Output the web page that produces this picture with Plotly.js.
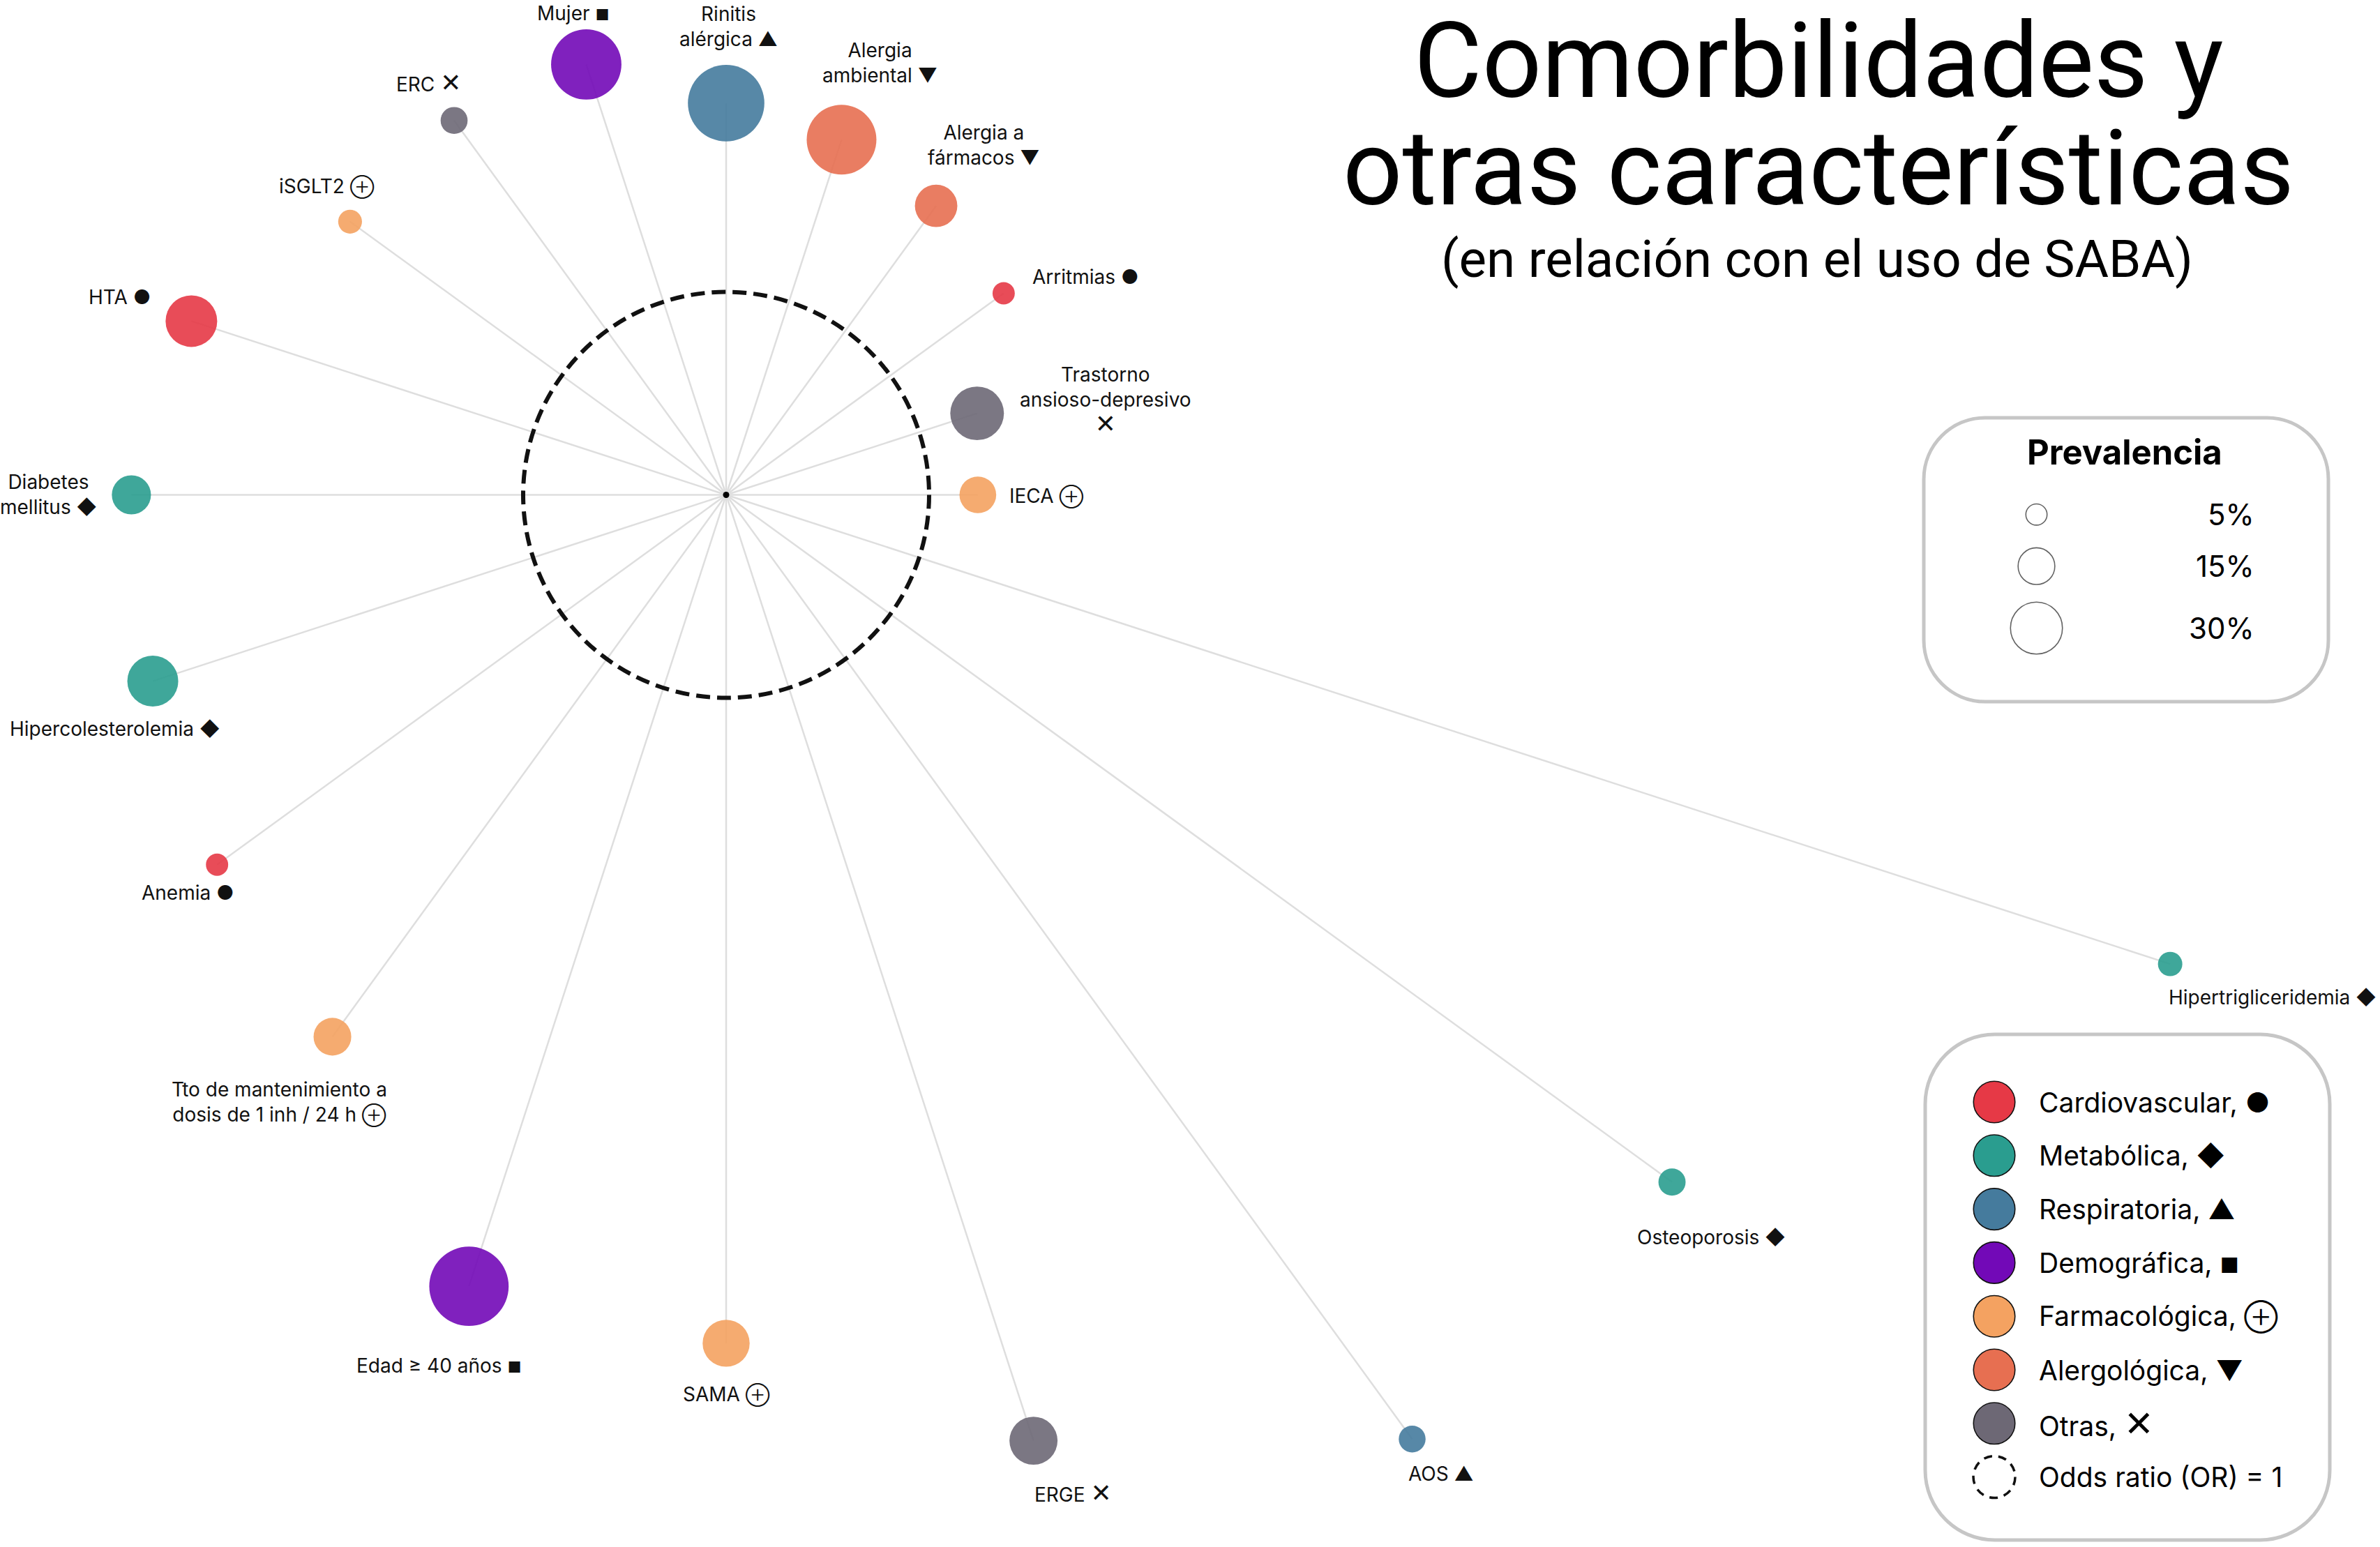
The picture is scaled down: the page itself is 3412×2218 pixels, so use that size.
<!DOCTYPE html>
<html>
<head>
<meta charset="utf-8">
<script src="https://cdn.plot.ly/plotly-3.0.1.min.js"></script>
<style>
html,body{margin:0;padding:0;background:#ffffff;overflow:hidden}
#chart{width:3412px;height:2218px}
</style>
</head>
<body>
<div id="chart"></div>
<script>
// ---------------- DATA ----------------
// Order: clockwise starting at the top (12 o'clock), evenly spaced spokes
const itemNames = [
  "Rinitis alérgica", "Alergia ambiental", "Alergia a fármacos", "Arritmias",
  "Trastorno ansioso-depresivo", "IECA", "Hipertrigliceridemia", "Osteoporosis",
  "AOS", "ERGE", "SAMA", "Edad ≥ 40 años",
  "Tto de mantenimiento a dosis de 1 inh / 24 h", "Anemia", "Hipercolesterolemia",
  "Diabetes mellitus", "HTA", "iSGLT2", "ERC", "Mujer"
];
const itemLabels = [
  "Rinitis<br>alérgica ▲", "Alergia<br>ambiental ▼", "Alergia a<br>fármacos ▼", "Arritmias ●",
  "Trastorno<br>ansioso-depresivo<br>✕", "IECA ⊕", "Hipertrigliceridemia ◆", "Osteoporosis ◆",
  "AOS ▲", "ERGE ✕", "SAMA ⊕", "Edad ≥ 40 años ■",
  "Tto de mantenimiento a<br>dosis de 1 inh / 24 h ⊕", "Anemia ●", "Hipercolesterolemia ◆",
  "Diabetes<br>mellitus ◆", "HTA ●", "iSGLT2 ⊕", "ERC ✕", "Mujer ■"
];
const itemCategory = [
  "Respiratoria", "Alergológica", "Alergológica", "Cardiovascular",
  "Otras", "Farmacológica", "Metabólica", "Metabólica",
  "Respiratoria", "Otras", "Farmacológica", "Demográfica",
  "Farmacológica", "Cardiovascular", "Metabólica",
  "Metabólica", "Cardiovascular", "Farmacológica", "Otras", "Demográfica"
];
// Odds ratio (distance from centre; dashed circle = OR 1)
const oddsRatio = [
  1.93, 1.84, 1.76, 1.69,
  1.30, 1.24, 7.48, 5.76,
  5.75, 4.90, 4.18, 4.10,
  3.30, 3.10, 2.97,
  2.93, 2.77, 2.29, 2.28, 2.23
];
// Prevalence (%) -> bubble area
const prevalence = [
  65, 54, 20, 5.5,
  32, 15, 6.6, 8.2,
  8.0, 25.7, 24.6, 70,
  15.8, 5.5, 28.8,
  17, 29.6, 6.3, 8.1, 55
];
const categoryNames   = ["Cardiovascular", "Metabólica", "Respiratoria", "Demográfica", "Farmacológica", "Alergológica", "Otras"];
const categorySymbols = ["●", "◆", "▲", "■", "⊕", "▼", "✕"];
const categoryColors  = ["#e63946", "#2a9d8f", "#457b9d", "#7209b7", "#f4a261", "#e76f51", "#6d6875"];
const sizeLegendValues = [5, 15, 30];
const sizeLegendLabels = ["5%", "15%", "30%"];

// ---------------- LAYOUT CONSTANTS ----------------
const W = 3412, H = 2218;
const CX = 1041, CY = 709.5;      // centre of the radial chart (px)
const PX_PER_OR = 291;            // px per odds-ratio unit
const K = 13.6;                   // bubble diameter = K*sqrt(prevalence)
const SIZEREF = 2 / (K * K);
const LABEL_FONT = "Inter, 'DejaVu Sans', sans-serif";

// label offsets (px) from bubble centre: [dx, dyUp, xanchor]
const labelOffsets = [
  [3, 110, "center"], [55, 110, "center"], [68, 87, "center"], [39, 23, "left"],
  [184, 18, "center"], [43, -2, "left"], [147, -48, "center"], [56, -79, "center"],
  [41, -50, "center"], [57, -74, "center"], [0, -74, "center"], [-43, -114, "center"],
  [-76, -94, "center"], [-42, -40, "center"], [-55, -68, "center"],
  [-119, 1, "center"], [-103, 34, "center"], [-33, 50, "center"], [-37, 55, "center"], [-19, 73, "center"]
];

// symbol glyph scaling relative to the text size
const symScale = {"✕": 1.3, "⊕": 0.9, "■": 0.78};
function styleSymbols(text, base) {
  return text.replace(/[✕⊕■]/g, s => `<span style="font-size:${Math.round(base * symScale[s])}px">${s}</span>`);
}

// ---------------- GEOMETRY ----------------
const n = itemNames.length;
const angleDeg = itemNames.map((_, i) => 90 - i * 360 / n);
const xs = oddsRatio.map((r, i) => r * Math.cos(angleDeg[i] * Math.PI / 180));
const ys = oddsRatio.map((r, i) => r * Math.sin(angleDeg[i] * Math.PI / 180));

const traces = [];

// spokes
const spokeX = [], spokeY = [];
xs.forEach((x, i) => { spokeX.push(0, x, null); spokeY.push(0, ys[i], null); });
traces.push({
  type: "scatter", mode: "lines", x: spokeX, y: spokeY,
  line: {color: "#dedede", width: 2.5}, hoverinfo: "skip", showlegend: false
});

// bubbles, one trace per category
categoryNames.forEach((cat, c) => {
  const idx = itemCategory.map((v, i) => v === cat ? i : -1).filter(i => i >= 0);
  traces.push({
    type: "scatter", mode: "markers", name: cat,
    x: idx.map(i => xs[i]), y: idx.map(i => ys[i]),
    text: idx.map(i => itemNames[i]),
    marker: {
      size: idx.map(i => prevalence[i]), sizemode: "area", sizeref: SIZEREF,
      color: categoryColors[c], opacity: 0.9, line: {width: 0}
    },
    showlegend: false
  });
});

// centre dot
traces.push({
  type: "scatter", mode: "markers", x: [0], y: [0],
  marker: {size: 9, color: "#000"}, showlegend: false, hoverinfo: "skip"
});

// ---------- legends (pixel-space overlay axes x2/y2) ----------
const LEG_X = 2859, LEG_Y0 = 1580, LEG_DY = 76.8, LEG_TX = 2921;
traces.push({
  type: "scatter", mode: "markers", xaxis: "x2", yaxis: "y2",
  x: categoryNames.map(() => LEG_X),
  y: categoryNames.map((_, k) => LEG_Y0 + k * LEG_DY),
  marker: {size: 59.5, color: categoryColors, line: {color: "#111", width: 1.6}},
  showlegend: false, hoverinfo: "skip"
});
const SZ_X = 2919.5, SZ_Y = [737.7, 811.7, 900.5];
traces.push({
  type: "scatter", mode: "markers", xaxis: "x2", yaxis: "y2",
  x: sizeLegendValues.map(() => SZ_X), y: SZ_Y,
  marker: {size: sizeLegendValues, sizemode: "area", sizeref: SIZEREF,
           color: "#ffffff", line: {color: "#222", width: 1.6}},
  showlegend: false, hoverinfo: "skip"
});

// ---------------- annotations ----------------
const annotations = [];
itemLabels.forEach((t, i) => {
  const o = labelOffsets[i];
  annotations.push({
    xref: "x", yref: "y", x: xs[i], y: ys[i], text: styleSymbols(t, 28), showarrow: false,
    xshift: o[0], yshift: o[1], xanchor: o[2], yanchor: "middle", align: "center",
    font: {family: LABEL_FONT, size: 28, color: "#111"}
  });
});
const pxAnn = (x, y, text, size, opts) => Object.assign({
  xref: "x2", yref: "y2", x: x, y: y, text: text, showarrow: false,
  xanchor: "center", yanchor: "middle",
  font: {family: "Roboto, sans-serif", size: size, color: "#000"}
}, opts || {});

annotations.push(pxAnn(2607, 88, "Comorbilidades y", 150));
annotations.push(pxAnn(2607, 241.5, "otras características", 150));
annotations.push(pxAnn(2605, 371.7, "(en relación con el uso de SABA)", 74.5));
annotations.push(pxAnn(3046, 648, "<b>Prevalencia</b>", 49,
  {font: {family: LABEL_FONT, size: 49, color: "#000"}}));
sizeLegendLabels.forEach((t, k) => annotations.push(
  pxAnn(3234, SZ_Y[k], t, 42, {xanchor: "right", font: {family: LABEL_FONT, size: 42, color: "#000"}})));
categoryNames.forEach((cat, k) => annotations.push(
  pxAnn(LEG_TX, LEG_Y0 + k * LEG_DY, styleSymbols(cat + ", " + categorySymbols[k], 39), 39,
        {xanchor: "left", font: {family: LABEL_FONT, size: 39, color: "#000"}})));
annotations.push(pxAnn(LEG_TX, LEG_Y0 + 7 * LEG_DY, "Odds ratio (OR) = 1", 39,
        {xanchor: "left", font: {family: LABEL_FONT, size: 39, color: "#000"}}));

// ---------------- shapes ----------------
function roundRect(x0, y0, x1, y1, r) {
  const k = 0.5523 * r;
  return `M${x0 + r},${y0} L${x1 - r},${y0} C${x1 - r + k},${y0} ${x1},${y0 + r - k} ${x1},${y0 + r} ` +
         `L${x1},${y1 - r} C${x1},${y1 - r + k} ${x1 - r + k},${y1} ${x1 - r},${y1} ` +
         `L${x0 + r},${y1} C${x0 + r - k},${y1} ${x0},${y1 - r + k} ${x0},${y1 - r} ` +
         `L${x0},${y0 + r} C${x0},${y0 + r - k} ${x0 + r - k},${y0} ${x0 + r},${y0} Z`;
}
const shapes = [
  {type: "circle", xref: "x", yref: "y", x0: -1, x1: 1, y0: -1, y1: 1,
   line: {color: "#111", width: 6, dash: "20px,10px"}, layer: "above"},
  {type: "path", xref: "x2", yref: "y2", path: roundRect(2758, 599, 3338, 1006, 88),
   line: {color: "#c6c6c6", width: 5}, fillcolor: "rgba(0,0,0,0)", layer: "below"},
  {type: "path", xref: "x2", yref: "y2", path: roundRect(2760, 1483, 3340, 2208, 100),
   line: {color: "#c6c6c6", width: 5}, fillcolor: "rgba(0,0,0,0)", layer: "below"},
  {type: "circle", xref: "x2", yref: "y2",
   x0: LEG_X - 30, x1: LEG_X + 30, y0: LEG_Y0 + 7 * LEG_DY - 30, y1: LEG_Y0 + 7 * LEG_DY + 30,
   line: {color: "#111", width: 3.5, dash: "12px,9px"}, layer: "above"}
];

const layout = {
  width: W, height: H,
  margin: {l: 0, r: 0, t: 0, b: 0, pad: 0},
  paper_bgcolor: "#ffffff", plot_bgcolor: "rgba(0,0,0,0)",
  showlegend: false,
  font: {family: LABEL_FONT, color: "#111"},
  xaxis: {range: [-CX / PX_PER_OR, (W - CX) / PX_PER_OR], visible: false, fixedrange: true},
  yaxis: {range: [-(H - CY) / PX_PER_OR, CY / PX_PER_OR], visible: false, fixedrange: true},
  xaxis2: {range: [0, W], visible: false, overlaying: "x", fixedrange: true},
  yaxis2: {range: [H, 0], visible: false, overlaying: "y", fixedrange: true},
  annotations: annotations,
  shapes: shapes
};

Plotly.newPlot("chart", traces, layout, {displayModeBar: false, staticPlot: true});
</script>
</body>
</html>
